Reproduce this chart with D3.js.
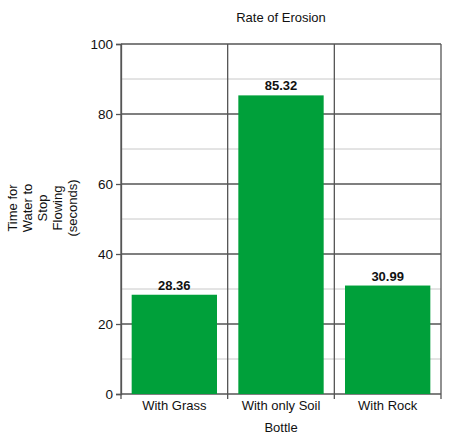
<!DOCTYPE html>
<html lang="en">
<head>
<meta charset="utf-8"/>
<title>Rate of Erosion</title>
<script src="https://d3js.org/d3.v7.min.js"></script>
<style>
  body { margin: 0; background: #fff; }
  text { font-family: "Liberation Sans", Arial, sans-serif; fill: #111; }
</style>
</head>
<body>
<div id="chart"></div>
<script>
  // data
  var bottles = ["With Grass", "With only Soil", "With Rock"];
  var seconds = [28.36, 85.32, 30.99];
  var yTicks = [0, 20, 40, 60, 80, 100];
  var yMinor = [10, 30, 50, 70, 90];
  var yLabelLines = ["Time for", "Water to", "Stop", "Flowing", "(seconds)"];

  var margin = { top: 44, right: 33, bottom: 45, left: 121 },
    width = 474 - margin.left - margin.right,
    height = 439 - margin.top - margin.bottom;

  var svg = d3.select("#chart")
    .append("svg")
      .attr("width", 474)
      .attr("height", 439)
    .append("g")
      .attr("transform", "translate(" + margin.left + "," + margin.top + ")");

  var x = d3.scaleBand()
    .domain(bottles)
    .range([0, width])
    .paddingInner(0.2)
    .paddingOuter(0.1);

  var xOuter = d3.scaleBand()
    .domain(bottles)
    .range([0, width]);

  var y = d3.scaleLinear()
    .domain([0, 100])
    .range([height, 0]);

  // minor gridlines
  svg.selectAll(".minor")
    .data(yMinor)
    .enter().append("line")
      .attr("x1", 0).attr("x2", width)
      .attr("y1", function(d) { return y(d); })
      .attr("y2", function(d) { return y(d); })
      .style("stroke", "#c8c8c8")
      .style("stroke-width", 1);

  // major gridlines
  svg.selectAll(".major")
    .data(yTicks)
    .enter().append("line")
      .attr("x1", 0).attr("x2", width)
      .attr("y1", function(d) { return y(d); })
      .attr("y2", function(d) { return y(d); })
      .style("stroke", "#555")
      .style("stroke-width", 1.3);

  // vertical category separators
  var edges = bottles.map(function(b) { return xOuter(b); }).concat([width]);
  svg.selectAll(".vgrid")
    .data(edges)
    .enter().append("line")
      .attr("x1", function(d) { return d; })
      .attr("x2", function(d) { return d; })
      .attr("y1", 0)
      .attr("y2", height + 5)
      .style("stroke", "#555")
      .style("stroke-width", 1.3);

  // bars
  svg.selectAll(".bar")
    .data(seconds)
    .enter().append("rect")
      .attr("x", function(d, i) { return x(bottles[i]); })
      .attr("y", function(d) { return y(d); })
      .attr("width", x.bandwidth())
      .attr("height", function(d) { return height - y(d); })
      .style("fill", "#00a03a");

  // value labels
  svg.selectAll(".val")
    .data(seconds)
    .enter().append("text")
      .attr("x", function(d, i) { return x(bottles[i]) + x.bandwidth() / 2; })
      .attr("y", function(d) { return y(d) - 5; })
      .attr("text-anchor", "middle")
      .style("font-size", "13px")
      .style("font-weight", "bold")
      .text(function(d) { return d.toFixed(2); });

  // y axis
  var yAxis = svg.append("g")
    .call(d3.axisLeft(y).tickValues(yTicks).tickSize(5).tickPadding(3));
  yAxis.select(".domain").style("stroke", "#555").style("stroke-width", 1.3);
  yAxis.selectAll(".tick line").style("stroke", "#555").style("stroke-width", 1.3);
  yAxis.selectAll("text").style("font-size", "13.5px").style("fill", "#111")
    .style("font-family", "'Liberation Sans', Arial, sans-serif");

  // x labels
  svg.selectAll(".xlab")
    .data(bottles)
    .enter().append("text")
      .attr("x", function(d) { return xOuter(d) + xOuter.bandwidth() / 2; })
      .attr("y", height + 16)
      .attr("text-anchor", "middle")
      .style("font-size", "13px")
      .text(function(d) { return d; });

  // title and axis titles
  svg.append("text")
    .attr("x", width / 2)
    .attr("y", 17 - margin.top + 5)
    .attr("text-anchor", "middle")
    .style("font-size", "13px")
    .text("Rate of Erosion");

  svg.append("text")
    .attr("x", width / 2)
    .attr("y", height + 38)
    .attr("text-anchor", "middle")
    .style("font-size", "13px")
    .text("Bottle");

  var yl = svg.append("text")
    .attr("transform", "translate(" + (13 - margin.left) + "," + (208 - margin.top) + ") rotate(-90)")
    .attr("text-anchor", "middle")
    .style("font-size", "13px");
  yl.selectAll("tspan")
    .data(yLabelLines)
    .enter().append("tspan")
      .attr("x", 0)
      .attr("y", function(d, i) { return 4 + i * 15; })
      .text(function(d) { return d; });
</script>
</body>
</html>
